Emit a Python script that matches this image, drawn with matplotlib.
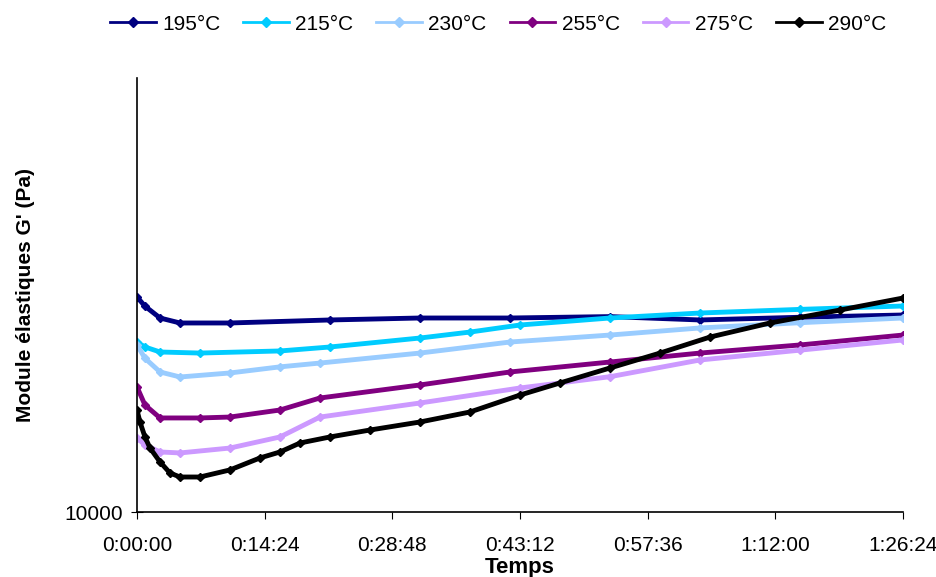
import matplotlib
matplotlib.use("Agg")
from matplotlib import pyplot as plt
from matplotlib.ticker import FixedLocator, NullLocator, FuncFormatter

plt.rcParams['font.family'] = ['Liberation Sans', 'DejaVu Sans']

# time in seconds, G' in Pa
t_195 = [0, 54, 156, 291, 629, 1306, 1915, 2524, 3201, 3810, 4487, 5184]
g_195 = [31290, 29800, 27990, 27260, 27260, 27700, 27990, 27990, 28200, 27700, 28100, 28440]

t_215 = [0, 54, 156, 426, 968, 1306, 1915, 2254, 2592, 3201, 3810, 4487, 5184]
g_215 = [24640, 24000, 23370, 23240, 23500, 24000, 25170, 25980, 26970, 27990, 28740, 29300, 29830]

t_230 = [0, 54, 156, 291, 629, 968, 1238, 1915, 2524, 3201, 3810, 4487, 5184]
g_230 = [24260, 22600, 21020, 20470, 20910, 21600, 22040, 23240, 24640, 25570, 26550, 27300, 27990]

t_255 = [0, 54, 156, 426, 629, 968, 1238, 1915, 2524, 3201, 3810, 4487, 5184]
g_255 = [19410, 17640, 16470, 16470, 16550, 17180, 18310, 19620, 21020, 22160, 23240, 24260, 25570]

t_275 = [0, 54, 156, 291, 629, 968, 1238, 1915, 2592, 3201, 3810, 4487, 5184]
g_275 = [14810, 14270, 13750, 13680, 14040, 14890, 16550, 17830, 19310, 20500, 22400, 23600, 24910]

t_290 = [0, 20, 54, 88, 156, 223, 291, 426, 629, 832, 968, 1103, 1306, 1577, 1915, 2254,
         2592, 2863, 3201, 3540, 3878, 4284, 4758, 5184]
g_290 = [17180, 16120, 14890, 14040, 13040, 12300, 12040, 12040, 12500, 13320, 13750, 14420,
         14890, 15450, 16120, 17000, 18600, 19830, 21470, 23240, 25300, 27260, 29200, 31120]

labels = ['195°C', '215°C', '230°C', '255°C', '275°C', '290°C']
colors = ['#000080', '#00CCFF', '#99CCFF', '#800080', '#CC99FF', '#000000']
series = [(t_195, g_195), (t_215, g_215), (t_230, g_230),
          (t_255, g_255), (t_275, g_275), (t_290, g_290)]

tick_secs = [0, 864, 1728, 2592, 3456, 4320, 5184]


def hms(s, pos=None):
    s = int(round(s))
    return "%d:%02d:%02d" % (s // 3600, (s % 3600) // 60, s % 60)


fig = plt.figure(figsize=(9.37, 5.77), dpi=100)
ax = fig.add_axes([137 / 937, 1 - 512 / 577, 766 / 937, 434 / 577])

for (t, g), lab, c in zip(series, labels, colors):
    ax.plot(t, g, color=c, lw=3.5, marker='D', ms=4, label=lab)

ax.set_yscale('log')
ax.set_ylim(10000, 100000)
ax.set_xlim(0, 5184)
ax.yaxis.set_major_locator(FixedLocator([10000]))
ax.yaxis.set_minor_locator(NullLocator())
ax.yaxis.set_major_formatter(FuncFormatter(lambda v, p: "%d" % v))
ax.xaxis.set_major_locator(FixedLocator(tick_secs))
ax.xaxis.set_major_formatter(FuncFormatter(hms))

for side in ['top', 'right']:
    ax.spines[side].set_visible(False)
ax.spines['left'].set_linewidth(1.2)
ax.spines['bottom'].set_linewidth(1.2)
ax.tick_params(axis='x', direction='out', length=5, labelsize=15, pad=12)
ax.tick_params(axis='y', direction='inout', length=8, labelsize=15, pad=6)

ax.set_xlabel('Temps', fontsize=16, fontweight='bold')
ax.xaxis.set_label_coords(0.5, -(557 - 512) / 434)
ax.set_ylabel("Module élastiques G' (Pa)", fontsize=15, fontweight='bold')
ax.yaxis.set_label_coords(-102 / 766, 0.5)

leg = fig.legend(loc='center', bbox_to_anchor=(498 / 937, 1 - 24 / 577), ncol=6, frameon=False,
                 fontsize=15, handlelength=2.2, handletextpad=0.3, columnspacing=1.1)
for h in leg.legend_handles:
    h.set_linewidth(2)
    h.set_markersize(5)

fig.savefig('out.png', dpi=100)
